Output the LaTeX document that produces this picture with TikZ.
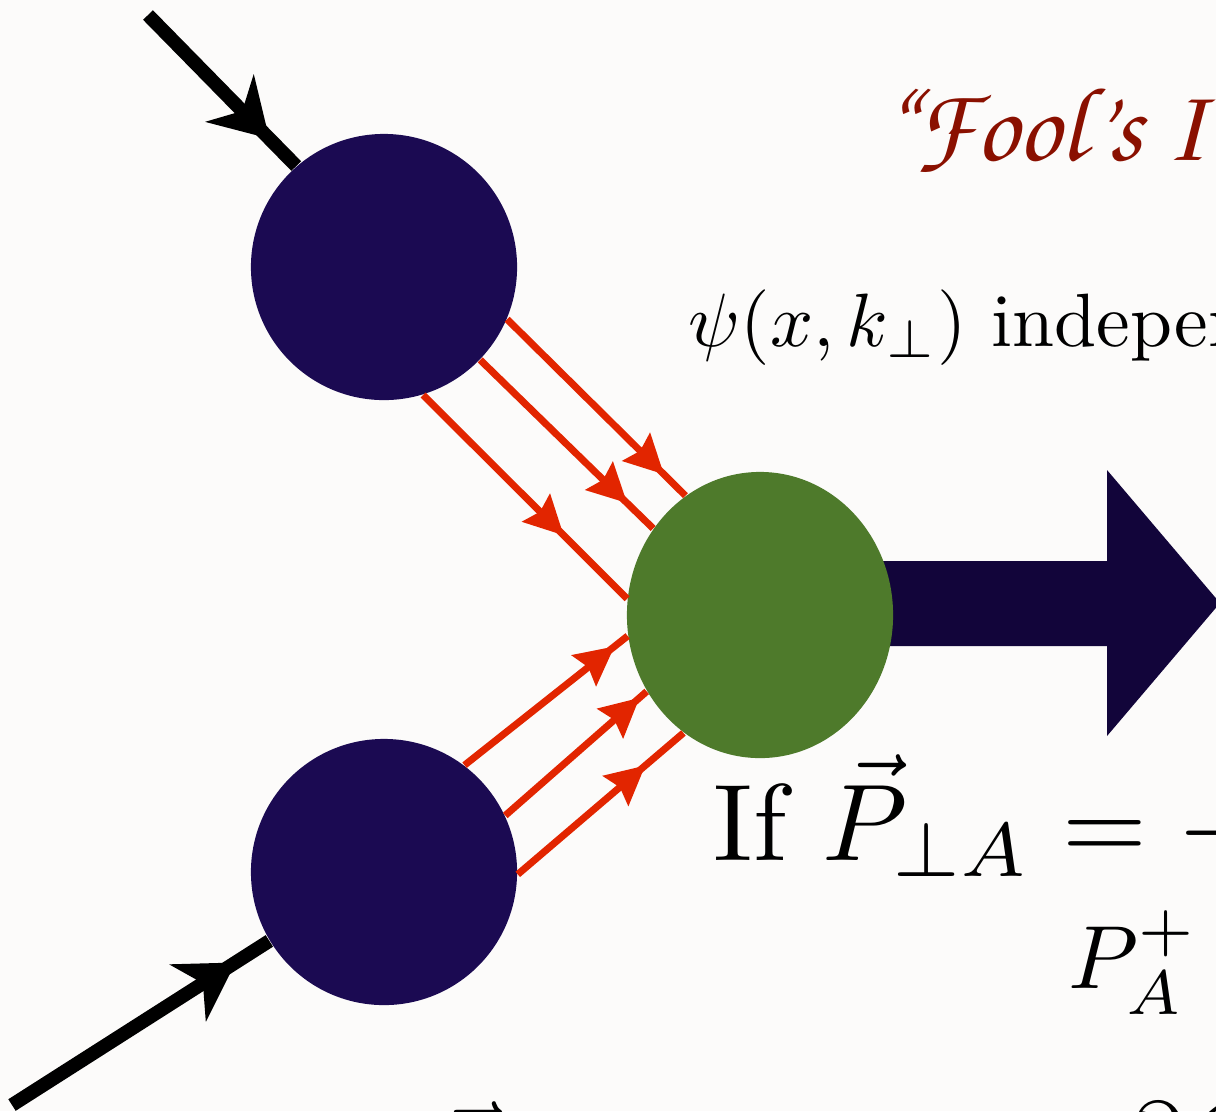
\documentclass[tikz,border=0pt]{standalone}
\usepackage[T1,TU]{fontenc}
\usepackage{amsmath}
\usepackage{amssymb}
\usepackage{graphicx}
\usepackage{xcolor}
\usepackage{tikz}
\usetikzlibrary{shapes.geometric, arrows.meta, decorations.markings}

\definecolor{bgwhite}{HTML}{FCFBFA}
\definecolor{hadnavy}{HTML}{1B0A52}
\definecolor{arrownavy}{HTML}{12053A}
\definecolor{hadgreen}{HTML}{4E7A2B}
\definecolor{quarkred}{HTML}{E22500}
\definecolor{foolred}{HTML}{8A1000}

\begin{document}
\begin{tikzpicture}[
    x=0.01cm, y=-0.01cm,
    hadron/.style={circle, fill=hadnavy, minimum size=2.66cm, inner sep=0pt},
    final/.style={ellipse, fill=hadgreen, minimum width=2.66cm, minimum height=2.86cm, inner sep=0pt},
    beam/.style={line width=3.9pt, draw=black, postaction={decorate},
        decoration={markings, mark=at position #1 with {\arrow{Stealth[length=16pt, width=19pt, inset=5pt]}}}},
    quark/.style={line width=2pt, draw=quarkred, postaction={decorate},
        decoration={markings, mark=at position #1 with {\arrow[quarkred]{Stealth[length=11pt, width=11pt, inset=1.5pt]}}}},
    label/.style={anchor=base west, inner sep=0pt}
]
    % page and background
    \useasboundingbox (0,0) rectangle (1216,1111);
    \clip (0,0) rectangle (1216,1111);
    \fill[bgwhite] (0,0) rectangle (1216,1111);

    % big outgoing arrow
    \fill[arrownavy] (800,561) -- (1107,561) -- (1107,470) -- (1220,603)
        -- (1107,736) -- (1107,646) -- (800,646) -- cycle;

    \node (hadA) [hadron] at (384,267) {};
    \node (hadB) [hadron] at (384,872) {};
    \node (had) [final] at (760,615) {};
    \coordinate (beamA) at (148,15);
    \coordinate (beamB) at (12,1105);

    \draw [beam=0.82] (beamA) -- (hadA.131);
    \draw [beam=0.87] (beamB) -- (hadB.211);

    \draw [quark=0.88] (hadA.-23) -- (had.122);
    \draw [quark=0.85] (hadA.-44) -- (had.141.7);
    \draw [quark=0.69] (hadA.-73) -- (had.173.5);
    \draw [quark=0.92] (hadB.53) -- (had.189.5);
    \draw [quark=0.95] (hadB.25.6) -- (had.214.5);
    \draw [quark=0.77] (hadB.-1.3) -- (had.237.6);

    % texts
    \node (fool) [label, text=foolred, font={\fontsize{30}{36}\fontencoding{T1}\fontfamily{pzc}\selectfont}] at (878,160) {``Fool's I};
    \node (indep) [label] at (688,346) {\scalebox{2.15}{$\psi(x,k_\perp)$ indepen}};
    \node (cond) [label] at (713,860) {\scalebox{3.1}{If $\vec{P}_{\perp A} = -$}};
    \node (plus) [label] at (1068,988) {\scalebox{2.55}{$P_A^+$}};
    \node (pvec) [label] at (418,1207) {\scalebox{3.1}{$\vec{P}$}};
    \node (cut) [label] at (1120,1178) {\scalebox{3.1}{$\partial\mathcal{O}$}};
\end{tikzpicture}
\end{document}
